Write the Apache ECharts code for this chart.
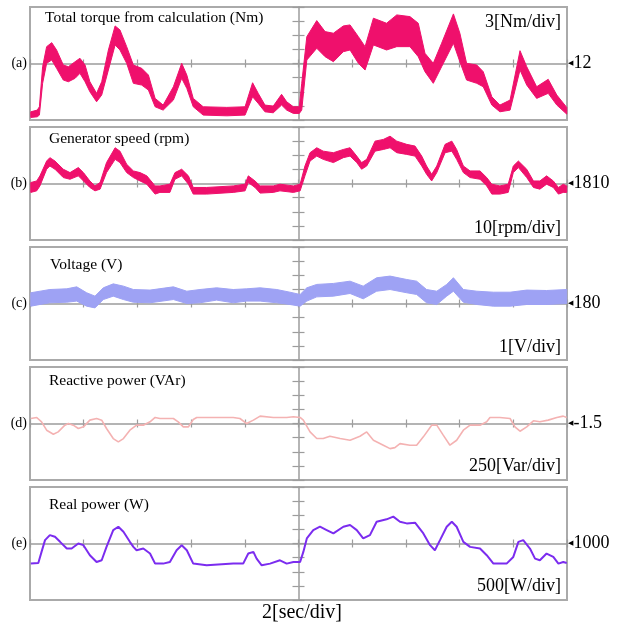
<!DOCTYPE html>
<html>
<head>
<meta charset="utf-8">
<script src="https://cdn.jsdelivr.net/npm/echarts@6/dist/echarts.min.js"></script>
<style>
  html, body { margin: 0; padding: 0; background: #fff; }
  #main { width: 628px; height: 627px; }
</style>
</head>
<body>
<div id="main"></div>
<script>
// time in seconds (2 s per division, 10 divisions)
var timeA = [0.03,0.27,0.35,0.47,0.62,0.81,0.99,1.24,1.43,1.68,1.86,2.05,2.23,2.48,2.67,2.92,3.17,3.35,3.60,3.85,4.16,4.41,4.66,4.96,5.34,5.65,5.84,6.08,6.45,7.33,8.01,8.29,8.50,8.75,9.06,9.37,9.56,9.81,10.03,10.12,10.31,10.68,10.99,11.30,11.67,11.92,12.23,12.48,12.79,13.28,13.66,14.15,14.46,14.71,15.02,15.33,15.77,16.01,16.26,16.64,16.88,17.20,17.50,17.88,18.25,18.50,18.87,19.30,19.62,19.99];
var torqueHigh = [1.74,2.10,2.81,11.32,15.58,16.43,14.87,11.68,11.32,12.38,13.11,11.68,8.13,5.66,8.13,14.87,19.98,19.13,15.58,11.68,10.98,9.55,4.59,3.17,7.06,12.04,9.55,4.59,2.81,2.68,2.81,7.91,5.66,3.17,2.96,5.45,3.87,2.81,2.81,7.79,17.70,21.11,18.77,18.43,19.98,20.19,17.70,15.58,21.62,20.55,22.32,21.96,20.55,14.17,12.04,16.30,22.53,18.43,12.04,11.68,10.26,4.93,3.17,4.23,14.72,11.32,7.06,8.64,5.30,2.68];
var torqueLow = [0.55,0.68,1.04,7.79,12.04,12.74,10.98,8.49,8.13,8.85,9.91,8.13,6.00,3.87,5.30,10.62,15.94,14.87,12.04,7.79,7.42,6.36,2.81,2.10,4.23,8.85,6.72,2.81,1.04,0.89,1.04,4.93,3.53,1.74,1.53,3.17,2.10,1.40,1.40,2.10,12.74,15.23,13.45,12.38,14.51,14.87,12.04,10.62,15.94,14.87,15.58,15.58,13.45,10.26,7.79,11.32,16.30,12.38,8.49,7.79,7.06,3.17,1.74,2.10,10.62,7.42,4.59,5.66,3.17,1.25];

var timeB = [0.03,0.25,0.37,0.62,0.74,0.93,1.24,1.49,1.80,1.99,2.23,2.42,2.61,2.85,3.17,3.35,3.60,3.85,4.10,4.35,4.66,4.84,5.21,5.40,5.65,5.90,6.08,6.58,7.57,8.01,8.13,8.38,8.57,9.06,9.31,9.81,10.06,10.24,10.43,10.68,10.92,11.30,11.67,11.92,12.17,12.35,12.54,12.85,13.16,13.41,13.66,14.03,14.34,14.59,14.77,14.96,15.15,15.46,15.71,15.89,16.14,16.39,16.76,17.01,17.20,17.50,17.81,18.00,18.19,18.50,18.75,18.99,19.24,19.49,19.68,19.86,19.99];
var speedHigh = [1810.7,1811.8,1815.4,1825.9,1828.3,1825.9,1820.1,1817.7,1821.3,1817.7,1811.8,1808.3,1810.7,1824.8,1835.3,1832.9,1823.6,1818.9,1817.7,1815.4,1808.3,1808.3,1809.5,1817.7,1820.1,1815.4,1807.2,1807.2,1808.3,1809.5,1815.4,1811.8,1808.3,1808.3,1809.5,1808.3,1809.5,1822.4,1831.8,1835.3,1832.9,1831.8,1834.1,1835.3,1829.4,1824.8,1827.1,1840.0,1841.2,1843.5,1840.0,1837.7,1836.5,1829.4,1822.4,1816.5,1822.4,1837.7,1840.0,1834.1,1822.4,1818.9,1818.9,1814.2,1809.5,1808.3,1809.5,1822.4,1825.9,1820.1,1811.8,1811.8,1815.4,1811.8,1807.2,1809.5,1808.3];
var speedLow = [1803.7,1804.8,1808.3,1820.1,1822.4,1820.1,1814.2,1813.0,1815.4,1811.8,1807.2,1804.8,1806.0,1817.7,1827.1,1824.8,1817.7,1814.2,1811.8,1809.5,1802.5,1803.7,1803.7,1813.0,1815.4,1809.5,1802.5,1802.5,1803.7,1804.8,1810.7,1807.2,1803.2,1803.7,1804.8,1803.7,1804.8,1815.4,1825.9,1829.4,1827.1,1824.8,1828.3,1829.4,1824.8,1820.1,1822.4,1832.9,1834.1,1835.3,1831.8,1830.6,1829.4,1822.4,1816.5,1811.8,1817.7,1831.8,1832.9,1827.1,1817.7,1814.2,1813.0,1808.3,1802.5,1802.5,1803.7,1817.7,1821.3,1814.2,1807.2,1806.0,1809.5,1807.2,1802.5,1803.7,1803.7];

var timeC = [0.03,0.37,0.74,1.37,1.74,2.11,2.42,2.73,3.10,3.48,3.85,4.47,5.34,5.84,6.33,6.95,7.57,8.07,8.57,9.19,9.68,10.06,10.31,10.68,11.30,11.92,12.41,12.91,13.41,14.03,14.40,14.77,15.15,15.52,15.77,16.14,16.64,17.26,17.88,18.50,19.24,19.99];
var voltHigh = [180.76,180.87,180.99,181.04,181.18,180.76,180.52,181.11,181.39,181.23,180.99,180.95,181.18,180.87,180.99,181.11,180.99,181.04,181.11,180.99,180.80,180.64,181.11,181.35,181.42,181.58,181.23,181.82,181.94,181.70,181.58,180.99,180.87,181.35,181.82,180.99,180.87,180.80,180.80,180.95,180.92,180.99];
var voltLow = [179.81,179.93,180.05,180.09,180.17,179.81,179.69,180.28,180.52,180.28,180.09,180.05,180.28,180.00,180.05,180.24,180.05,180.17,180.17,180.05,179.93,179.81,180.17,180.47,180.52,180.71,180.33,180.87,180.99,180.76,180.64,180.05,179.93,180.52,180.87,180.09,179.93,179.81,179.81,179.93,179.93,180.00];

var timeD = [0.03,0.25,0.43,0.62,0.87,1.05,1.30,1.43,1.61,1.80,1.99,2.23,2.48,2.67,2.85,3.10,3.29,3.48,3.72,3.97,4.22,4.47,4.66,4.84,5.34,5.52,5.71,5.90,6.08,6.21,6.58,7.57,7.82,8.07,8.32,8.57,9.06,9.56,9.81,10.06,10.18,10.43,10.68,10.92,11.17,11.55,11.92,12.29,12.54,12.79,13.16,13.41,13.59,13.78,14.15,14.40,14.65,14.96,15.15,15.39,15.64,15.89,16.14,16.39,16.76,17.01,17.13,17.50,17.88,18.06,18.25,18.50,18.75,18.99,19.30,19.62,19.86,19.99];
var reactivePower = [87,105,28,-120,-191,-150,-31,-2,-31,-90,-61,58,87,58,-90,-268,-327,-268,-120,-31,-31,28,105,87,87,28,-61,-61,70,105,105,105,87,-2,58,129,105,105,117,105,58,-150,-268,-268,-227,-268,-298,-227,-150,-298,-386,-446,-428,-357,-386,-386,-238,-31,-31,-208,-386,-298,-120,-31,-31,28,105,105,87,-61,-138,-61,46,28,58,105,129,105];

var timeE = [0.03,0.31,0.43,0.56,0.74,0.93,1.12,1.37,1.55,1.80,1.99,2.23,2.48,2.67,2.85,3.10,3.29,3.48,3.72,3.85,3.97,4.22,4.47,4.66,4.96,5.21,5.46,5.65,5.84,6.08,6.58,7.57,7.94,8.13,8.32,8.44,8.63,8.94,9.31,9.56,9.81,10.06,10.18,10.31,10.55,10.80,11.05,11.30,11.67,11.92,12.17,12.41,12.66,12.91,13.28,13.53,13.78,14.03,14.34,14.65,14.90,15.08,15.27,15.52,15.71,15.89,16.14,16.39,16.76,17.01,17.26,17.75,18.00,18.19,18.37,18.62,18.81,18.99,19.24,19.49,19.68,19.86,19.99];
var realPower = [288,312,703,1119,1297,1237,1059,822,822,1000,941,585,347,406,881,1475,1594,1415,1059,881,763,822,644,288,288,347,763,941,763,288,228,288,288,644,703,466,228,288,406,288,347,347,703,1178,1475,1594,1475,1356,1594,1653,1475,1178,1297,1772,1855,1950,1772,1712,1736,1356,941,763,1119,1594,1772,1594,1059,881,822,585,288,288,525,1059,1119,822,466,406,644,525,288,347,312];

var panelNames = ['(a)', '(b)', '(c)', '(d)', '(e)'];
var panelTitles = ['Total torque from calculation (Nm)', 'Generator speed (rpm)', 'Voltage (V)', 'Reactive power (VAr)', 'Real power (W)'];
var centerValues = [12, 1810, 180, -1.5, 1000];
var perDiv = [3, 10, 1, 250, 500];
var scaleTexts = ['3[Nm/div]', '10[rpm/div]', '1[V/div]', '250[Var/div]', '500[W/div]'];
var timeText = '2[sec/div]';

var panelTops = [7, 127, 247, 367, 487];
var gridLeft = 30, gridWidth = 537, gridHeight = 113;
var serif = 'Liberation Serif';
var lineGray = '#9c9c9c';

function pairs(t, v) {
  return t.map(function (x, k) { return [x, v[k]]; });
}

var grids = [], xAxes = [], yAxes = [], titles = [];

panelTops.forEach(function (top, i) {
  grids.push({
    left: gridLeft, top: top, width: gridWidth, height: gridHeight,
    show: true, borderColor: '#aaaaaa', borderWidth: 2
  });

  // data x axis
  xAxes.push({ gridIndex: i, type: 'value', min: 0, max: 20, show: false });
  // crosshair x axis, ticks both sides
  xAxes.push({
    gridIndex: i, type: 'value', min: 0, max: 20, interval: 2,
    position: 'bottom', offset: -gridHeight / 2,
    axisLine: { lineStyle: { color: lineGray, width: 1.5 } },
    axisTick: { inside: true, length: 4, lineStyle: { color: lineGray, width: 1.2 } },
    axisLabel: { show: false }, splitLine: { show: false }
  });
  xAxes.push({
    gridIndex: i, type: 'value', min: 0, max: 20, interval: 2,
    position: 'bottom', offset: -gridHeight / 2,
    axisLine: { show: false },
    axisTick: { inside: false, length: 4, lineStyle: { color: lineGray, width: 1.2 } },
    axisLabel: { show: false }, splitLine: { show: false }
  });

  // data y axis
  yAxes.push({
    gridIndex: i, type: 'value', show: false,
    min: centerValues[i] - 4 * perDiv[i], max: centerValues[i] + 4 * perDiv[i]
  });
  // crosshair y axis (divisions)
  yAxes.push({
    gridIndex: i, type: 'value', min: -4, max: 4, interval: 1,
    position: 'left', offset: -gridWidth / 2,
    axisLine: { lineStyle: { color: lineGray, width: 1.5 } },
    axisTick: { inside: true, length: 6, lineStyle: { color: lineGray, width: 1.2 } },
    axisLabel: { show: false }, splitLine: { show: false }
  });
  yAxes.push({
    gridIndex: i, type: 'value', min: -4, max: 4, interval: 1,
    position: 'left', offset: -gridWidth / 2,
    axisLine: { show: false },
    axisTick: { inside: false, length: 6, lineStyle: { color: lineGray, width: 1.2 } },
    axisLabel: { show: false }, splitLine: { show: false }
  });
  // right marker label
  yAxes.push({
    gridIndex: i, type: 'value', min: -4, max: 4, interval: 4, position: 'right',
    axisLine: { show: false }, axisTick: { show: false }, splitLine: { show: false },
    axisLabel: {
      margin: 1,
      formatter: function (v) { return v === 0 ? '{a|\u25C0}{v|' + centerValues[i] + '}' : ''; },
      rich: {
        a: { fontFamily: 'DejaVu Sans', fontSize: 7, color: '#000' },
        v: { fontFamily: serif, fontSize: 18, color: '#000' }
      }
    }
  });
  // left panel letter
  yAxes.push({
    gridIndex: i, type: 'value', min: -4, max: 4, interval: 4, position: 'left',
    axisLine: { show: false }, axisTick: { show: false }, splitLine: { show: false },
    axisLabel: {
      margin: 3, fontFamily: serif, fontSize: 14, color: '#000',
      formatter: function (v) { return v === 0 ? panelNames[i] : ''; }
    }
  });
});

var titleTops = [10, 131, 257, 373, 497];
var titleLefts = [45, 49, 50, 49, 49];
panelTitles.forEach(function (txt, i) {
  titles.push({
    text: txt, left: titleLefts[i], top: titleTops[i], padding: 0,
    textStyle: { fontFamily: serif, fontSize: 15.5, fontWeight: 'normal', color: '#000' }
  });
});
var scaleTops = [13, 219, 338, 457, 577];
scaleTexts.forEach(function (txt, i) {
  titles.push({
    text: txt, right: 67, top: scaleTops[i], padding: 0,
    textStyle: { fontFamily: serif, fontSize: 18, fontWeight: 'normal', color: '#000' }
  });
});
titles.push({
  text: timeText, left: 262, top: 603, padding: 0,
  textStyle: { fontFamily: serif, fontSize: 20, fontWeight: 'normal', color: '#000' }
});

// noisy trace drawn as a filled envelope between low and high readings
function band(i, t, lo, hi, color) {
  return {
    type: 'custom', xAxisIndex: 3 * i, yAxisIndex: 5 * i, silent: true, z: 3,
    data: t.map(function (x, k) { return [x, lo[k], hi[k]]; }),
    encode: { x: 0, y: [1, 2] },
    renderItem: function (params, api) {
      if (params.dataIndex !== 0) return null;
      var upper = t.map(function (x, k) { return api.coord([x, hi[k]]); });
      var lower = t.map(function (x, k) { return api.coord([x, lo[k]]); }).reverse();
      return {
        type: 'polygon',
        shape: { points: upper.concat(lower) },
        style: { fill: color, stroke: color, lineWidth: 1 }
      };
    }
  };
}

var series = [
  band(0, timeA, torqueLow, torqueHigh, '#ef106c'),
  band(1, timeB, speedLow, speedHigh, '#ef106c'),
  band(2, timeC, voltLow, voltHigh, '#9ea2f4'),
  {
    type: 'line', xAxisIndex: 9, yAxisIndex: 15, data: pairs(timeD, reactivePower),
    symbol: 'none', silent: true, lineStyle: { color: '#f4b2b2', width: 1.6 }
  },
  {
    type: 'line', xAxisIndex: 12, yAxisIndex: 20, data: pairs(timeE, realPower),
    symbol: 'none', silent: true, lineStyle: { color: '#7b2cef', width: 2 }
  }
];

var chart = echarts.init(document.getElementById('main'));
chart.setOption({
  animation: false,
  backgroundColor: '#fff',
  title: titles,
  grid: grids,
  xAxis: xAxes,
  yAxis: yAxes,
  series: series
});
</script>
</body>
</html>
